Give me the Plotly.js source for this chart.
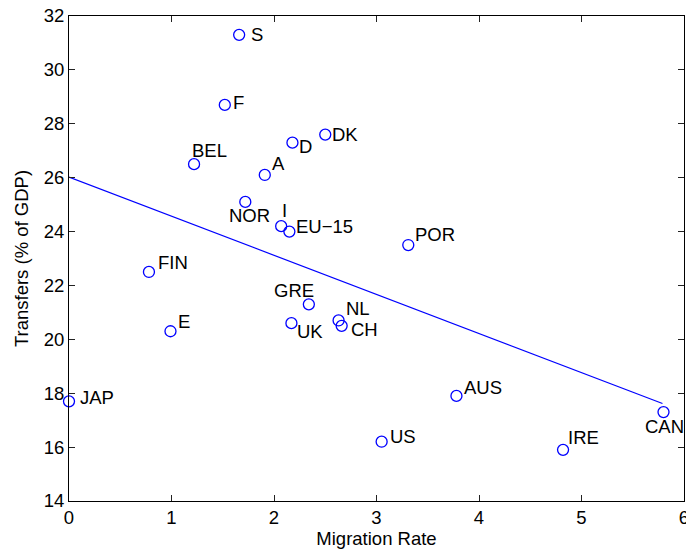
<!DOCTYPE html>
<html>
<head>
<meta charset="utf-8">
<script src="https://cdn.plot.ly/plotly-3.0.1.min.js"></script>
<style>html,body{margin:0;padding:0;background:#fff;}#chart{width:686px;height:552px;}</style>
</head>
<body>
<div id="chart"></div>
<script>
// Data
const countries = ['S','F','BEL','A','D','DK','NOR','I','EU\u221215','POR','FIN','E','JAP','GRE','UK','NL','CH','AUS','US','IRE','CAN'];
const migrationRate = [1.66,1.52,1.22,1.91,2.18,2.50,1.72,2.07,2.15,3.31,0.78,0.99,0.00,2.34,2.17,2.63,2.66,3.78,3.05,4.82,5.80];
const transfers = [31.3,28.7,26.5,26.1,27.3,27.6,25.1,24.2,24.0,23.5,22.5,20.3,17.7,21.3,20.6,20.7,20.5,17.9,16.2,15.9,17.3];
const fitX = [0, 5.79];
const fitY = [26.02, 17.62];
const xTicks = [0,1,2,3,4,5,6];
const yTicks = [14,16,18,20,22,24,26,28,30,32];

// Label placement (pixel offsets: right, up) — styling, not data
const labelOffsets = [[11,0],[7,2],[-3,14],[6,11],[6,-4],[6,0],[-17,-14],[0,16],[6,5],[6,11],[8,9],[7,10],[10,4],[-36,14],[5,-8],[6,12],[8,-4],[7,8],[7,5],[4,12],[-20,-14]];

const FONT = 'Liberation Sans, Arial, Helvetica, sans-serif';
const BLUE = '#0000ff';
const FS = 18.5;

const traces = [
  {
    x: fitX, y: fitY, type: 'scatter', mode: 'lines',
    line: {color: BLUE, width: 1.2}, hoverinfo: 'skip', cliponaxis: false
  },
  {
    x: migrationRate, y: transfers, type: 'scatter', mode: 'markers',
    marker: {symbol: 'circle-open', size: 11, color: BLUE, line: {color: BLUE, width: 1.3}},
    cliponaxis: false
  }
];

const annotations = countries.map((c, i) => ({
  x: migrationRate[i], y: transfers[i], xref: 'x', yref: 'y',
  text: c, showarrow: false, xanchor: 'left', yanchor: 'middle',
  xshift: labelOffsets[i][0], yshift: labelOffsets[i][1],
  font: {family: FONT, size: FS, color: '#000'}, borderpad: 0
}));

const axisCommon = {
  showline: true, linecolor: '#000', linewidth: 1, mirror: 'allticks',
  ticks: 'inside', ticklen: 6, tickcolor: '#222', tickwidth: 1,
  showgrid: false, zeroline: false, ticklabeloverflow: 'allow',
  tickfont: {family: FONT, size: FS, color: '#000'}
};

const layout = {
  width: 686, height: 552,
  margin: {l: 69, r: 2, t: 16, b: 51},
  paper_bgcolor: '#fff', plot_bgcolor: '#fff',
  showlegend: false,
  font: {family: FONT, color: '#000'},
  xaxis: Object.assign({}, axisCommon, {
    range: [0, 6], tickmode: 'array', tickvals: xTicks, ticktext: xTicks.map(String),
    title: {text: 'Migration Rate', font: {family: FONT, size: FS, color: '#000'}, standoff: 3}
  }),
  yaxis: Object.assign({}, axisCommon, {
    range: [14, 32], tickmode: 'array', tickvals: yTicks, ticktext: yTicks.map(String),
    title: {text: 'Transfers (% of GDP)', font: {family: FONT, size: FS, color: '#000'}, standoff: 10}
  }),
  annotations: annotations
};

Plotly.newPlot('chart', traces, layout, {displayModeBar: false, staticPlot: true});
</script>
</body>
</html>
